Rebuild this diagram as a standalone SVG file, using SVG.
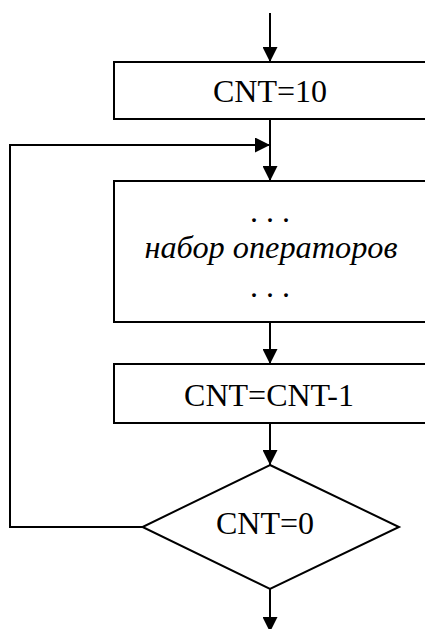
<svg xmlns="http://www.w3.org/2000/svg" width="425" height="629" viewBox="0 0 425 629">
<style>
.box{fill:#fff;stroke:#000;stroke-width:2}
.ln{fill:none;stroke:#000;stroke-width:2}
.t{font-family:'Liberation Serif','Times New Roman','DejaVu Serif',serif;font-size:32px;fill:#000;text-anchor:middle}
.i{font-style:italic;font-size:32.3px}
</style>
<defs>
<marker id="ah" markerUnits="userSpaceOnUse" markerWidth="15" markerHeight="15" refX="15" refY="7.5" orient="auto">
<path d="M0,0 L15,7.5 L0,15 z" fill="#000"/>
</marker>
</defs>
<rect width="425" height="629" fill="#fff"/>
<g id="connectors">
<line class="ln" x1="270" y1="13" x2="270" y2="62" marker-end="url(#ah)"/>
<line class="ln" x1="270" y1="119" x2="270" y2="181" marker-end="url(#ah)"/>
<line class="ln" x1="270" y1="322" x2="270" y2="364" marker-end="url(#ah)"/>
<line class="ln" x1="270" y1="423" x2="270" y2="465" marker-end="url(#ah)"/>
<line class="ln" x1="270" y1="589" x2="270" y2="632" marker-end="url(#ah)"/>
<polyline class="ln" points="143,527 10,527 10,145 270,145" marker-end="url(#ah)"/>
</g>
<g id="init">
<rect class="box" x="114" y="62" width="314" height="57"/>
<text class="t" x="270" y="102">CNT=10</text>
</g>
<g id="body">
<rect class="box" x="114" y="181" width="314" height="141"/>
<text class="t" x="270" y="222">. . .</text>
<text class="t i" x="271" y="258">набор операторов</text>
<text class="t" x="270" y="297">. . .</text>
</g>
<g id="decrement">
<rect class="box" x="114" y="364" width="314" height="59"/>
<text class="t" x="269" y="406">CNT=CNT-1</text>
</g>
<g id="check">
<polygon class="box" points="270,465 399,527 270,589 142.5,527"/>
<text class="t" x="265" y="534">CNT=0</text>
</g>
</svg>
